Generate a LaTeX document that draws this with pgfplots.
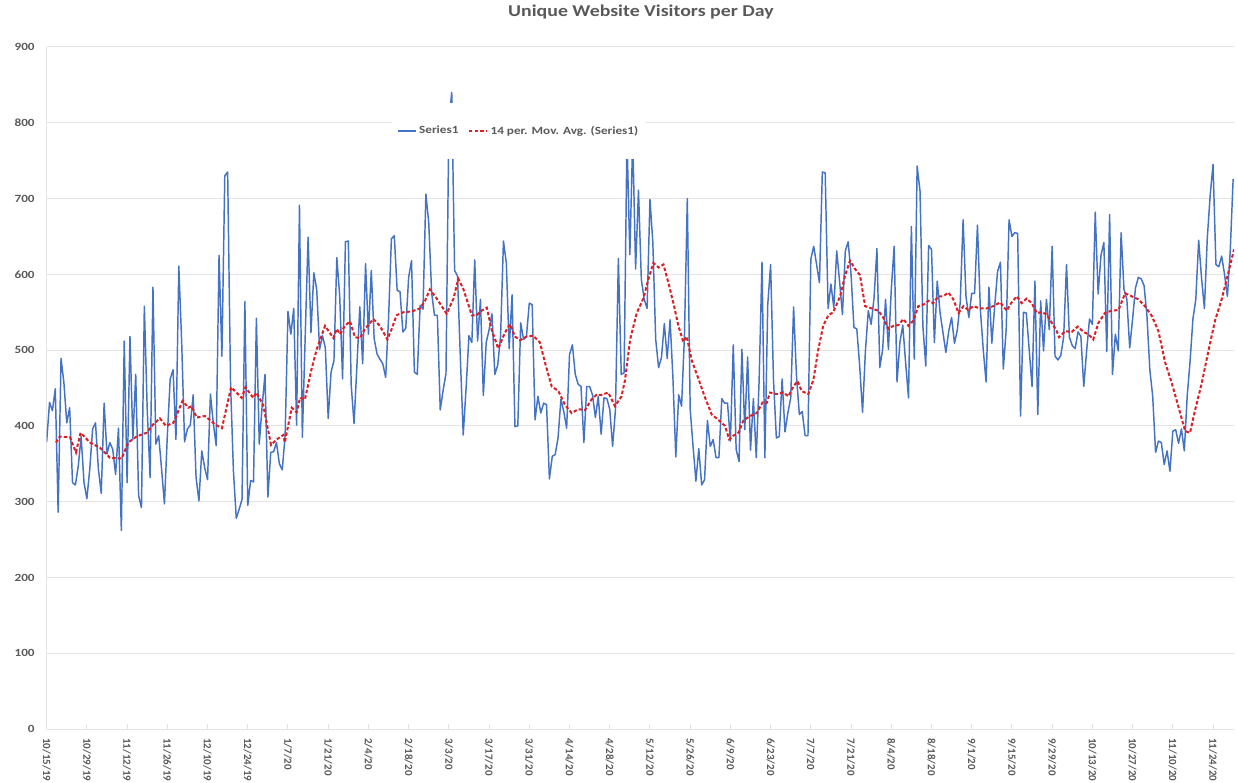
\documentclass[border=0pt]{standalone}
\usepackage{pgfplots}
\pgfplotsset{compat=1.18}
\usepackage{fontspec}
\setmainfont{Carlito}
\usepackage{graphicx}
\definecolor{txt}{HTML}{595959}
\definecolor{sone}{HTML}{4472C4}
\definecolor{ma}{RGB}{222,30,36}
\definecolor{grd}{HTML}{E4E4E4}
\newcommand{\sy}[1]{\scalebox{1.2}[1]{#1}}
\newcommand{\lab}{\fontsize{8.25}{9.9}\selectfont\bfseries}
\begin{document}
\begin{tikzpicture}
\useasboundingbox (-35pt,-39.75pt) rectangle (893.5pt,546.75pt);
\begin{axis}[
  at={(0,0)}, anchor=south west,
  width=890.5pt, height=511.5pt, scale only axis,
  xmin=0, xmax=413.3, ymin=0, ymax=900,
  axis x line*=bottom, axis y line*=left,
  axis line style={draw=grd, line width=0.75pt},
  ytick={0,100,...,900},
  yticklabels={\sy{0},\sy{100},\sy{200},\sy{300},\sy{400},\sy{500},\sy{600},\sy{700},\sy{800},\sy{900}},
  yticklabel style={font=\lab, text=txt, anchor=east, inner sep=0pt, xshift=-8.8pt},
  ytick style={draw=none},
  ymajorgrids, grid style={draw=grd, line width=0.75pt},
  xtick={0,14,...,406},
  xticklabels={10/15/19,10/29/19,11/12/19,11/26/19,12/10/19,12/24/19,1/7/20,1/21/20,2/4/20,2/18/20,3/3/20,3/17/20,3/31/20,4/14/20,4/28/20,5/12/20,5/26/20,6/9/20,6/23/20,7/7/20,7/21/20,8/4/20,8/18/20,9/1/20,9/15/20,9/29/20,10/13/20,10/27/20,11/10/20,11/24/20},
  xticklabel style={font=\lab, text=txt, yshift=-6.75pt, rotate=-90, anchor=west, inner sep=0pt},
  xtick style={draw=grd, line width=0.75pt},
  major tick length=3.75pt,
  legend style={at={(0.3978,0.8768)}, anchor=center, draw=none, fill=white,
    inner xsep=4pt, inner ysep=14.9pt, font=\lab, text=txt,
    /tikz/every even column/.append style={column sep=5pt}},
  legend columns=-1,
  legend image code/.code={\draw[#1] (0pt,0pt) -- (13.5pt,0pt);},
]
\addplot[sone, line width=1.1pt, line join=round, mark=none] coordinates {
(0,379)(1,431)(2,420)(3,449)(4,286)(5,489)(6,457)(7,404)(8,424)(9,325)
(10,322)(11,347)(12,386)(13,325)(14,304)(15,343)(16,396)(17,404)(18,343)(19,311)
(20,430)(21,363)(22,378)(23,369)(24,336)(25,397)(26,262)(27,512)(28,325)(29,518)
(30,382)(31,468)(32,308)(33,292)(34,558)(35,422)(36,332)(37,583)(38,376)(39,387)
(40,343)(41,297)(42,387)(43,462)(44,474)(45,382)(46,611)(47,510)(48,379)(49,396)
(50,401)(51,441)(52,332)(53,301)(54,367)(55,345)(56,329)(57,442)(58,404)(59,374)
(60,625)(61,492)(62,730)(63,735)(64,457)(65,341)(66,278)(67,290)(68,303)(69,564)
(70,295)(71,328)(72,326)(73,542)(74,376)(75,426)(76,468)(77,306)(78,365)(79,366)
(80,378)(81,350)(82,342)(83,387)(84,551)(85,521)(86,555)(87,401)(88,691)(89,385)
(90,519)(91,649)(92,523)(93,602)(94,580)(95,501)(96,519)(97,503)(98,410)(99,471)
(100,486)(101,622)(102,572)(103,462)(104,643)(105,644)(106,454)(107,403)(108,480)(109,557)
(110,482)(111,614)(112,521)(113,605)(114,515)(115,495)(116,488)(117,482)(118,464)(119,541)
(120,647)(121,651)(122,579)(123,577)(124,524)(125,529)(126,596)(127,618)(128,471)(129,468)
(130,559)(131,554)(132,706)(133,668)(134,576)(135,546)(136,546)(137,421)(138,447)(139,469)
(140,800)(141,840)(142,605)(143,598)(144,490)(145,388)(146,450)(147,519)(148,510)(149,619)
(150,512)(151,567)(152,440)(153,510)(154,527)(155,548)(156,468)(157,480)(158,518)(159,644)
(160,615)(161,502)(162,573)(163,399)(164,400)(165,536)(166,514)(167,518)(168,562)(169,560)
(170,408)(171,439)(172,417)(173,430)(174,428)(175,330)(176,360)(177,362)(178,384)(179,435)
(180,419)(181,397)(182,494)(183,507)(184,468)(185,455)(186,452)(187,378)(188,452)(189,452)
(190,441)(191,411)(192,439)(193,389)(194,437)(195,436)(196,422)(197,373)(198,422)(199,621)
(200,468)(201,470)(202,780)(203,626)(204,780)(205,607)(206,711)(207,593)(208,567)(209,555)
(210,699)(211,642)(212,514)(213,477)(214,490)(215,535)(216,489)(217,540)(218,463)(219,359)
(220,441)(221,426)(222,518)(223,700)(224,422)(225,373)(226,327)(227,370)(228,322)(229,329)
(230,407)(231,373)(232,382)(233,358)(234,358)(235,436)(236,430)(237,430)(238,380)(239,507)
(240,369)(241,353)(242,501)(243,395)(244,491)(245,368)(246,436)(247,358)(248,460)(249,616)
(250,358)(251,560)(252,613)(253,461)(254,384)(255,386)(256,462)(257,392)(258,417)(259,437)
(260,557)(261,466)(262,415)(263,419)(264,387)(265,387)(266,620)(267,637)(268,613)(269,589)
(270,735)(271,734)(272,555)(273,587)(274,556)(275,631)(276,591)(277,547)(278,631)(279,643)
(280,600)(281,530)(282,528)(283,479)(284,418)(285,499)(286,552)(287,534)(288,569)(289,634)
(290,477)(291,501)(292,567)(293,501)(294,580)(295,637)(296,458)(297,510)(298,533)(299,483)
(300,437)(301,663)(302,488)(303,743)(304,710)(305,532)(306,479)(307,638)(308,633)(309,510)
(310,591)(311,549)(312,523)(313,497)(314,525)(315,543)(316,509)(317,527)(318,563)(319,672)
(320,571)(321,543)(322,575)(323,575)(324,665)(325,554)(326,501)(327,458)(328,583)(329,509)
(330,558)(331,604)(332,616)(333,475)(334,527)(335,672)(336,650)(337,655)(338,654)(339,413)
(340,550)(341,549)(342,501)(343,452)(344,591)(345,415)(346,565)(347,499)(348,567)(349,527)
(350,637)(351,492)(352,487)(353,493)(354,517)(355,613)(356,517)(357,506)(358,502)(359,524)
(360,518)(361,452)(362,499)(363,541)(364,534)(365,682)(366,574)(367,625)(368,642)(369,498)
(370,679)(371,468)(372,521)(373,499)(374,655)(375,580)(376,567)(377,503)(378,541)(379,582)
(380,596)(381,594)(382,585)(383,545)(384,474)(385,439)(386,365)(387,380)(388,378)(389,349)
(390,367)(391,340)(392,393)(393,395)(394,377)(395,396)(396,367)(397,439)(398,485)(399,541)
(400,567)(401,645)(402,595)(403,555)(404,648)(405,704)(406,745)(407,613)(408,610)(409,624)
(410,600)(411,571)(412,632)(413,726)
};
\addlegendentry{\sy{Series1}}
\addplot[ma, line width=1.5pt, dash pattern=on 2.6pt off 1.6pt, mark=none] coordinates {
(3.2,378)(4.6,386)(8.1,385)(10.2,365)(11.8,391)(15.1,378)(18.6,371)(22.0,358)(26.1,357)(28.4,378)
(31.3,386)(34.8,391)(37.1,402)(39.4,410)(41.5,400)(44.1,404)(47.3,433)(49.3,424)(50.5,426)(52.2,411)
(55.1,413)(58.6,402)(61.0,397)(64.2,451)(67.9,437)(69.2,451)(71.9,437)(73.0,444)(75.4,427)(78.1,375)
(80.0,382)(82.4,388)(82.9,378)(85.3,424)(87.0,418)(88.2,437)(89.9,435)(92.2,475)(94.0,501)(95.7,519)
(96.9,532)(99.8,516)(101.0,528)(102.1,521)(103.8,532)(105.6,538)(107.3,517)(109.1,516)(110.8,528)(113.7,541)
(116.0,532)(118.6,514)(120.1,528)(121.8,546)(124.2,550)(127.1,551)(129.9,555)(131.7,565)(133.4,580)(135.8,568)
(139.2,548)(141.6,568)(143.3,594)(145.0,581)(148.0,546)(149.7,546)(151.4,552)(153.2,556)(154.9,527)(157.2,502)
(159.5,523)(161.3,534)(163.0,518)(164.8,513)(167.1,518)(169.4,519)(171.7,510)(173.5,483)(175.8,452)(178.1,446)
(180.4,428)(182.7,417)(185.1,422)(187.4,421)(189.7,435)(191.4,441)(193.2,441)(195.5,444)(197.8,426)(200.1,439)
(201.3,460)(203.1,514)(205.4,549)(207.7,568)(209.4,593)(211.2,615)(213.0,609)(214.7,613)(216.4,589)(218.1,563)
(219.9,532)(221.6,511)(222.8,518)(224.5,487)(226.8,463)(229.2,437)(231.5,415)(233.8,408)(236.1,400)(237.6,382)
(239.0,387)(240.8,391)(242.5,407)(244.8,413)(247.2,417)(249.2,431)(250.6,430)(251.8,444)(254.1,442)(256.4,444)
(258.2,439)(259.9,452)(261.4,459)(262.8,446)(265.1,442)(266.9,461)(268.6,501)(270.3,532)(272.1,546)(273.8,550)
(276.2,571)(277.9,598)(279.6,618)(281.4,607)(283.1,599)(284.9,558)(287.2,555)(289.5,552)(291.2,543)(293.0,528)
(294.7,532)(296.5,533)(298.2,541)(300.0,532)(301.7,539)(303.4,558)(305.2,560)(306.9,565)(308.6,562)(310.4,571)
(312.1,571)(313.9,576)(315.6,567)(317.4,549)(319.1,558)(320.8,553)(322.6,558)(324.9,555)(327.2,555)(329.5,558)
(331.9,563)(334.2,552)(335.9,563)(337.7,571)(339.4,562)(341.1,568)(342.9,562)(344.6,549)(346.4,550)(348.1,547)
(349.9,536)(351.6,525)(352.4,517)(354.5,525)(356.8,524)(358.9,531)(360.9,524)(362.6,521)(364.3,514)(366.1,536)
(368.4,549)(370.7,552)(373.1,553)(375.4,575)(377.7,571)(380.0,567)(382.3,558)(384.7,545)(387.0,525)(389.3,484)
(391.6,457)(393.9,426)(396.3,393)(398.0,391)(399.7,420)(402.1,457)(404.4,499)(406.7,539)(409.0,567)(411.3,602)
(413.3,633)
};
\addlegendentry{\sy{14 per. Mov. Avg. (Series1)}}
\end{axis}
\node[font=\fontsize{12.4}{14}\selectfont\bfseries, text=txt, inner sep=0pt] at (445.7pt,538pt) {\sy{Unique Website Visitors per Day}};
\end{tikzpicture}
\end{document}
